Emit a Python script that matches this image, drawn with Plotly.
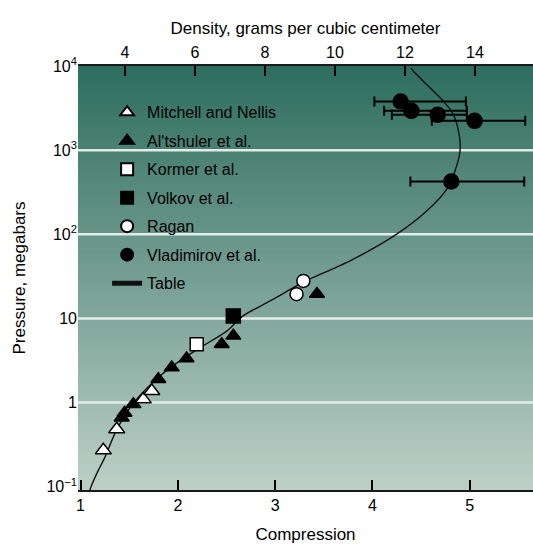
import plotly.graph_objects as go

# ---------------- data ----------------
mitchell_c = [1.234, 1.372, 1.645, 1.732]
mitchell_p = [0.27, 0.48, 1.09, 1.37]

altshuler_c = [1.423, 1.452, 1.543, 1.80, 1.937, 2.09, 2.451, 2.57, 3.43]
altshuler_p = [0.66, 0.75, 0.955, 1.89, 2.6, 3.34, 4.93, 6.2, 19.5]

kormer_c = [2.194]
kormer_p = [4.93]

volkov_c = [2.57]
volkov_p = [10.7]

ragan_c = [3.29, 3.22]
ragan_p = [27.9, 19.4]

vlad_c = [4.29, 4.40, 4.67, 5.05, 4.81]
vlad_p = [3785, 2930, 2630, 2230, 424]
vlad_err_minus = [0.27, 0.28, 0.47, 0.44, 0.42]
vlad_err_plus = [0.67, 0.57, 0.30, 0.52, 0.75]

table_c = [1.094, 1.108, 1.18, 1.249, 1.375, 1.56, 1.817, 2.02, 2.26, 2.506, 2.67,
           2.948, 3.256, 3.359, 3.77, 4.253, 4.56, 4.766, 4.848, 4.90, 4.89, 4.828,
           4.725, 4.592, 4.417, 4.397]
table_p = [0.089, 0.1, 0.154, 0.221, 0.485, 1.04, 2.07, 3.13, 4.71, 7.1, 10.7,
           16.1, 25.7, 29.5, 48.3, 101, 190, 347, 566, 977, 1560, 2700,
           3855, 5510, 8770, 9520]

compression_ticks = [1, 2, 3, 4, 5]
density_ticks = [4, 6, 8, 10, 12, 14]
pressure_ticks = [0.1, 1, 10, 100, 1000, 10000]
pressure_ticktext = ["10<sup>−1</sup>", "1", "10", "10<sup>2</sup>", "10<sup>3</sup>", "10<sup>4</sup>"]
grid_values = [1, 10, 100, 1000]

# ---------------- figure ----------------
FONT = "Liberation Sans, Arial, Helvetica, sans-serif"
fig = go.Figure()

fig.add_trace(go.Scatter(x=table_c, y=table_p, mode="lines", name="Table",
                         line=dict(color="#111111", width=1.4, shape="spline", smoothing=0.8),
                         legendgroup="g7", legendrank=7))

def add_markers(x, y, name, symbol, fill, size, rank, err=None):
    fig.add_trace(go.Scatter(
        x=x, y=y, mode="markers", name=name, legendgroup=f"g{rank}", legendrank=rank,
        marker=dict(symbol=symbol, color=fill, size=size,
                    line=dict(color="#000000", width=1.5)),
        error_x=err))

add_markers(mitchell_c, mitchell_p, "Mitchell and Nellis", "triangle-up", "#ffffff", 14, 1)
add_markers(altshuler_c, altshuler_p, "Al'tshuler et al.", "triangle-up", "#000000", 13, 2)
add_markers(kormer_c, kormer_p, "Kormer et al.", "square", "#ffffff", 13, 3)
add_markers(volkov_c, volkov_p, "Volkov et al.", "square", "#000000", 14, 4)
add_markers(ragan_c, ragan_p, "Ragan", "circle", "#ffffff", 13, 5)
add_markers(vlad_c, vlad_p, "Vladimirov et al.", "circle", "#000000", 15, 6,
            err=dict(type="data", symmetric=False, array=vlad_err_plus,
                     arrayminus=vlad_err_minus, color="#000000", thickness=2, width=5))

# dummy trace to activate the top density axis
fig.add_trace(go.Scatter(x=density_ticks, y=[None] * len(density_ticks), xaxis="x2",
                         mode="markers", showlegend=False, hoverinfo="skip"))

# gradient background
shapes = []
top = (46, 110, 94)
bot = (188, 207, 199)
n = 106
for i in range(n):
    t = i / (n - 1)
    r = round(top[0] + (bot[0] - top[0]) * t)
    g = round(top[1] + (bot[1] - top[1]) * t)
    b = round(top[2] + (bot[2] - top[2]) * t)
    shapes.append(dict(type="rect", xref="paper", yref="paper", x0=0, x1=1,
                       y0=1 - (i + 1) / n, y1=1 - i / n + 0.001,
                       fillcolor=f"rgb({r},{g},{b})", line=dict(width=0), layer="below"))
for gv in grid_values:
    shapes.append(dict(type="line", xref="paper", yref="y", x0=0, x1=1, y0=gv, y1=gv,
                       line=dict(color="#e4ece7", width=2.5), layer="below"))

fig.update_layout(
    width=533, height=547,
    margin=dict(l=78, r=0, t=66, b=57),
    paper_bgcolor="#ffffff", plot_bgcolor="rgba(0,0,0,0)",
    font=dict(family=FONT, size=16, color="#000000"),
    shapes=shapes,
    showlegend=True,
    legend=dict(x=0.064, y=0.931, xanchor="left", yanchor="top",
                bgcolor="rgba(0,0,0,0)", font=dict(size=16, family=FONT),
                traceorder="grouped", tracegroupgap=4.7, itemsizing="constant"),
    xaxis=dict(range=[0.974, 5.65], tickvals=compression_ticks, ticks="inside",
               ticklen=10, tickwidth=1.5, tickcolor="#000000",
               showline=True, linecolor="#1a1a1a", linewidth=2,
               showgrid=False, zeroline=False,
               title=dict(text="Compression", font=dict(size=17), standoff=15)),
    xaxis2=dict(range=[2.657, 15.657], tickvals=density_ticks, overlaying="x", side="top",
                ticks="inside", ticklen=10, tickwidth=1.5, tickcolor="#000000",
                showline=True, linecolor="#1a1a1a", linewidth=2,
                showgrid=False, zeroline=False,
                title=dict(text="Density, grams per cubic centimeter", font=dict(size=17), standoff=5)),
    yaxis=dict(type="log", range=[-1.04, 4.0], tickvals=pressure_ticks, ticktext=pressure_ticktext,
               ticks="", showline=False, showgrid=False, zeroline=False,
               title=dict(text="Pressure, megabars", font=dict(size=17), standoff=16)),
)

fig.write_html("out.html")
